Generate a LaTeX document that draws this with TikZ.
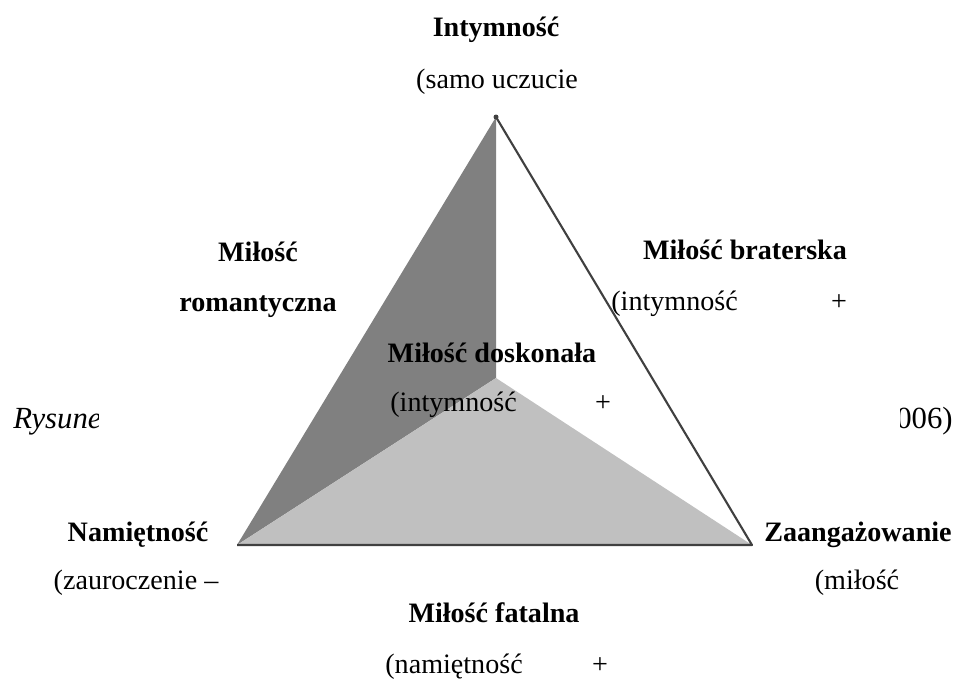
\documentclass[tikz,border=0pt]{standalone}
\usepackage{fontspec}
\setmainfont{Liberation Serif}
\definecolor{darkshade}{HTML}{808080}
\definecolor{lightshade}{HTML}{C0C0C0}
\definecolor{edgegray}{HTML}{404040}
\begin{document}
\begin{tikzpicture}[x=0.02cm, y=-0.02cm,
    title/.style={font=\fontsize{16}{19}\selectfont\bfseries, inner sep=0pt, anchor=base},
    note/.style={font=\fontsize{16}{19}\selectfont, inner sep=0pt, anchor=base},
    capt/.style={font=\fontsize{17.5}{20}\selectfont, inner sep=0pt}]
    \useasboundingbox (0,0) rectangle (955,681);

    % caption behind the picture, cut at both sides
    \begin{scope}
        \clip (0,0) rectangle (98,681);
        \node[capt, anchor=base west] (capleft) at (13,428) {\itshape Rysunek};
    \end{scope}
    \begin{scope}
        \clip (900,0) rectangle (955,681);
        \node[capt, anchor=base east] (capright) at (953,428) {2006)};
    \end{scope}

    % triangle
    \coordinate (apex) at (496,117);
    \coordinate (pleft) at (237,545);
    \coordinate (pright) at (752,545);
    \coordinate (centre) at (496,378);
    \fill[darkshade] (apex) -- (centre) -- (pleft) -- cycle;
    \fill[lightshade] (pleft) -- (centre) -- (pright) -- cycle;
    \draw[edgegray, line width=1.2pt, line join=round] (apex) -- (pright) -- (pleft);
    \fill[edgegray] (apex) circle (2.5);

    % corners
    \node[title] (intym) at (496,36) {Intymność};
    \node[note] (intymtxt) at (497,88) {(samo uczucie};
    \node[title] (namiet) at (138,541) {Namiętność};
    \node[note] (namiettxt) at (136,589) {(zauroczenie –};
    \node[title] (zaang) at (858,541) {Zaangażowanie};
    \node[note] (zaangtxt) at (857,589) {(miłość};

    % sides
    \node[title] (roman1) at (258,261) {Miłość};
    \node[title] (roman2) at (258,311) {romantyczna};
    \node[title] (brat) at (745,259) {Miłość braterska};
    \node[note, anchor=base west] (brattxt) at (611,310) {(intymność};
    \node[note] (bratplus) at (839,310) {+};
    \node[title] (dosk) at (492,362) {Miłość doskonała};
    \node[note, anchor=base west] (dosktxt) at (390,411) {(intymność};
    \node[note] (doskplus) at (603,411) {+};
    \node[title] (fatal) at (494,622) {Miłość fatalna};
    \node[note, anchor=base west] (fataltxt) at (385,673) {(namiętność};
    \node[note] (fatalplus) at (600,673) {+};
\end{tikzpicture}
\end{document}
